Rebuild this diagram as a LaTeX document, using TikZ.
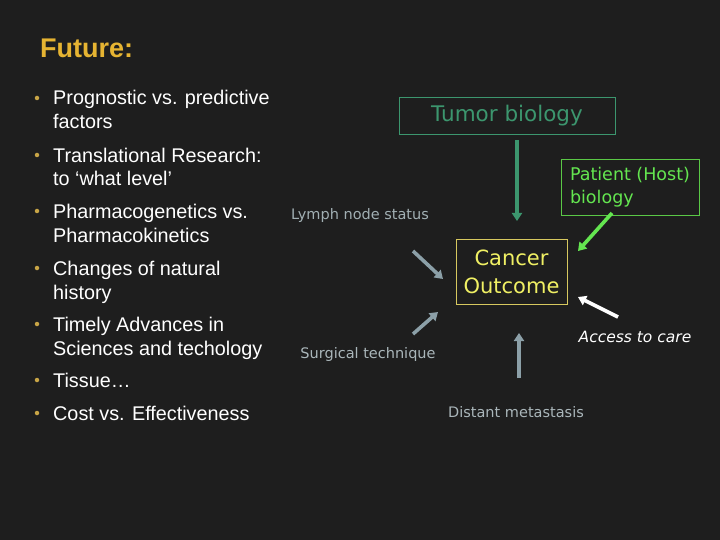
\documentclass[tikz,border=0pt]{standalone}
\usepackage{fontspec}
\setmainfont{Liberation Sans}
\newfontfamily\diagfont{DejaVu Sans}
\usetikzlibrary{arrows.meta}
\definecolor{slidebg}{RGB}{30,30,30}
\definecolor{titlegold}{RGB}{230,180,50}
\definecolor{bulletgold}{RGB}{200,165,70}
\definecolor{tumorteal}{RGB}{60,150,110}
\definecolor{hostgreen}{RGB}{100,230,80}
\definecolor{hostborder}{RGB}{90,200,70}
\definecolor{outcomeyellow}{RGB}{240,240,100}
\definecolor{outcomeborder}{RGB}{215,200,95}
\definecolor{factorgray}{RGB}{170,182,186}
\definecolor{arrowgray}{RGB}{140,160,168}
\tikzset{
  bullet-text/.style={anchor=base west, inner sep=0pt, align=left, text=white,
    font=\fontsize{19.8}{24}\selectfont},
  bullet-dot/.style={circle, fill=bulletgold, inner sep=0pt, minimum size=4.5pt},
  factor-box/.style={line width=0.9pt, inner sep=3pt, font=\diagfont},
  factor-label/.style={inner sep=0pt, text=factorgray, font=\diagfont\fontsize{14.5}{18}\selectfont},
  factor-arrow/.style={-{Triangle[length=8pt,width=10pt]}, line width=3.6pt, draw=arrowgray},
  tumor-arrow/.style={factor-arrow, draw=tumorteal},
  host-arrow/.style={factor-arrow, draw=hostgreen},
  care-arrow/.style={factor-arrow, draw=white}
}
\begin{document}
\begin{tikzpicture}[x=1pt, y=-1pt]
\useasboundingbox[fill=slidebg] (0,0) rectangle (720,540);
\node[anchor=base west, inner sep=0pt, text=titlegold, font=\fontsize{27}{30}\selectfont\bfseries] (future) at (40,58) {Future:};
% dot height / last baseline / text
\foreach \dy/\ly/\txt/\i in {%
  98/129/Prognostic vs. predictive\\factors/1,%
  155/186/Translational Research:\\to ‘what level’/2,%
  211/242/Pharmacogenetics vs.\\Pharmacokinetics/3,%
  268/299/Changes of natural\\history/4,%
  324/355/Timely Advances in\\Sciences and techology/5,%
  380/387/Tissue…/6,%
  413/420/Cost vs. Effectiveness/7%
}{
  \node[bullet-dot] (dot\i) at (37,\dy) {};
  \node[bullet-text] (item\i) at (53,\ly) {\txt};
}
% factors around the outcome
\node[factor-box, draw=tumorteal, text=tumorteal, minimum width=216pt, minimum height=37pt,
  font=\diagfont\fontsize{21.5}{24}\selectfont] (tumor) at (507,115.5) {Tumor biology};
\node[factor-box, draw=hostborder, text=hostgreen, minimum width=138pt, minimum height=56pt,
  align=left, font=\diagfont\fontsize{17.5}{23}\selectfont] (host) at (630,187) {Patient (Host)\\biology};
\node[factor-box, draw=outcomeborder, text=outcomeyellow, minimum width=111pt, minimum height=65pt,
  align=center, font=\diagfont\fontsize{21}{28}\selectfont] (outcome) at (511.5,271.5) {Cancer\\Outcome};
\node[factor-label, text=factorgray!110] (lymph) at (360,216) {Lymph node status};
\node[factor-label] (surgery) at (368,354) {Surgical technique};
\node[factor-label] (distant) at (516,412) {Distant metastasis};
\node[inner sep=0pt, text=white, font=\diagfont\itshape\fontsize{15.5}{18}\selectfont] (care) at (635,337) {Access to care};
% arrow ends
\coordinate (tumor-tail) at (517,140);
\coordinate (tumor-tip) at (517,221);
\coordinate (host-tail) at (612,213);
\coordinate (host-tip) at (578,251);
\coordinate (care-tail) at (618,317);
\coordinate (care-tip) at (578,297);
\coordinate (lymph-tail) at (413,251);
\coordinate (lymph-tip) at (443,279);
\coordinate (surgery-tail) at (413,334);
\coordinate (surgery-tip) at (438,312);
\coordinate (distant-tail) at (519,378);
\coordinate (distant-tip) at (519,333);
\draw[tumor-arrow] (tumor-tail) -- (tumor-tip);
\draw[host-arrow] (host-tail) -- (host-tip);
\draw[care-arrow] (care-tail) -- (care-tip);
\draw[factor-arrow] (lymph-tail) -- (lymph-tip);
\draw[factor-arrow] (surgery-tail) -- (surgery-tip);
\draw[factor-arrow] (distant-tail) -- (distant-tip);
\end{tikzpicture}
\end{document}
